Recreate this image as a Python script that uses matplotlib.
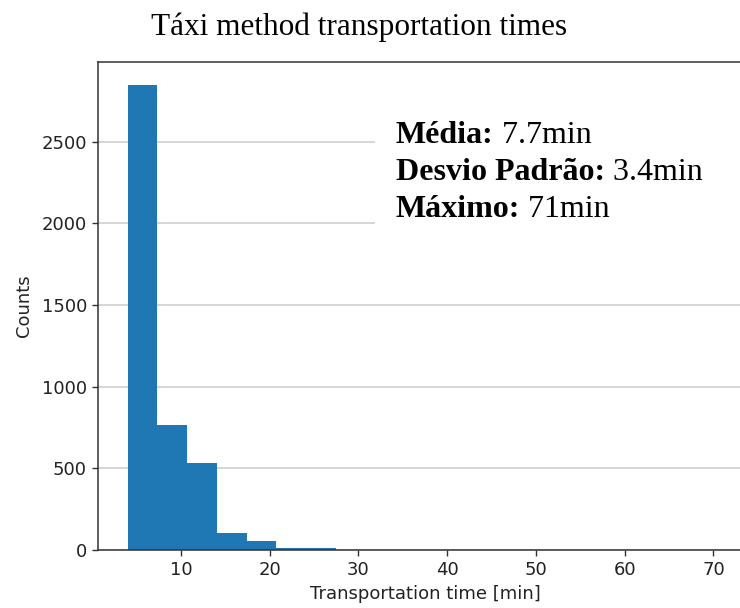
import numpy as np
import matplotlib
matplotlib.use("Agg")
import matplotlib.pyplot as plt
from matplotlib.patches import Rectangle

# Histogram of taxi transportation times (20 bins between min and max)
t_min, t_max = 4.0, 71.0
n_bins = 20
counts = [2845, 765, 534, 107, 58, 15, 14, 2, 1, 1, 0, 0, 0, 0, 0, 0, 0, 0, 0, 1]
yticks = [0, 500, 1000, 1500, 2000, 2500]
xticks = [10, 20, 30, 40, 50, 60, 70]

title = "Táxi method transportation times"
stats_labels = ["Média:", "Desvio Padrão:", "Máximo:"]
stats_values = [" 7.7min", " 3.4min", " 71min"]

W, H, DPI = 740, 608, 100
fig = plt.figure(figsize=(W / DPI, H / DPI), dpi=DPI)

# axes box in pixels (extends past the right edge of the canvas)
left_px, right_px, top_px, bottom_px = 98, 752, 62, 550
ax = fig.add_axes([left_px / W, (H - bottom_px) / H,
                   (right_px - left_px) / W, (bottom_px - top_px) / H])

edges = np.linspace(t_min, t_max, n_bins + 1)
ax.stairs(counts, edges, fill=True, color="#1f77b4", zorder=2)

pad = 0.05 * (t_max - t_min)
ax.set_xlim(t_min - pad, t_max + pad)
ax.set_ylim(0, max(counts) * 1.05)
ax.set_xticks(xticks)
ax.set_yticks(yticks)
ax.tick_params(labelsize=13, length=4.5, width=1.0, color="#333333",
               labelcolor="#222222")
ax.grid(axis="y", color="#d3d3d3", linewidth=1.3, zorder=0)
ax.set_axisbelow(True)
for s in ax.spines.values():
    s.set_linewidth(1.1)
    s.set_color("#333333")

ax.set_xlabel("Transportation time [min]", fontsize=13, labelpad=4,
              color="#222222")
ax.set_ylabel("Counts", fontsize=13, labelpad=6, color="#222222")

fig.text(359 / W, 1 - 35 / H, title, ha="center", va="baseline",
         family="Liberation Serif", fontsize=22.5)

# white panel behind the summary statistics
panel = Rectangle((375, H - 245), 400, 140, transform=None,
                  facecolor="white", edgecolor="none", zorder=3)
ax.add_artist(panel)

baselines = [143, 180, 217]
for lab, val, yb in zip(stats_labels, stats_values, baselines):
    tb = fig.text(396 / W, 1 - yb / H, lab, ha="left", va="baseline",
                  family="Liberation Serif", fontweight="bold", fontsize=23,
                  zorder=4)
    ax.annotate(val, xy=(1, 0), xycoords=tb, xytext=(0, 0),
                textcoords="offset points", ha="left", va="bottom",
                family="Liberation Serif", fontsize=23, zorder=4,
                annotation_clip=False)

fig.savefig("out.png", dpi=DPI)
